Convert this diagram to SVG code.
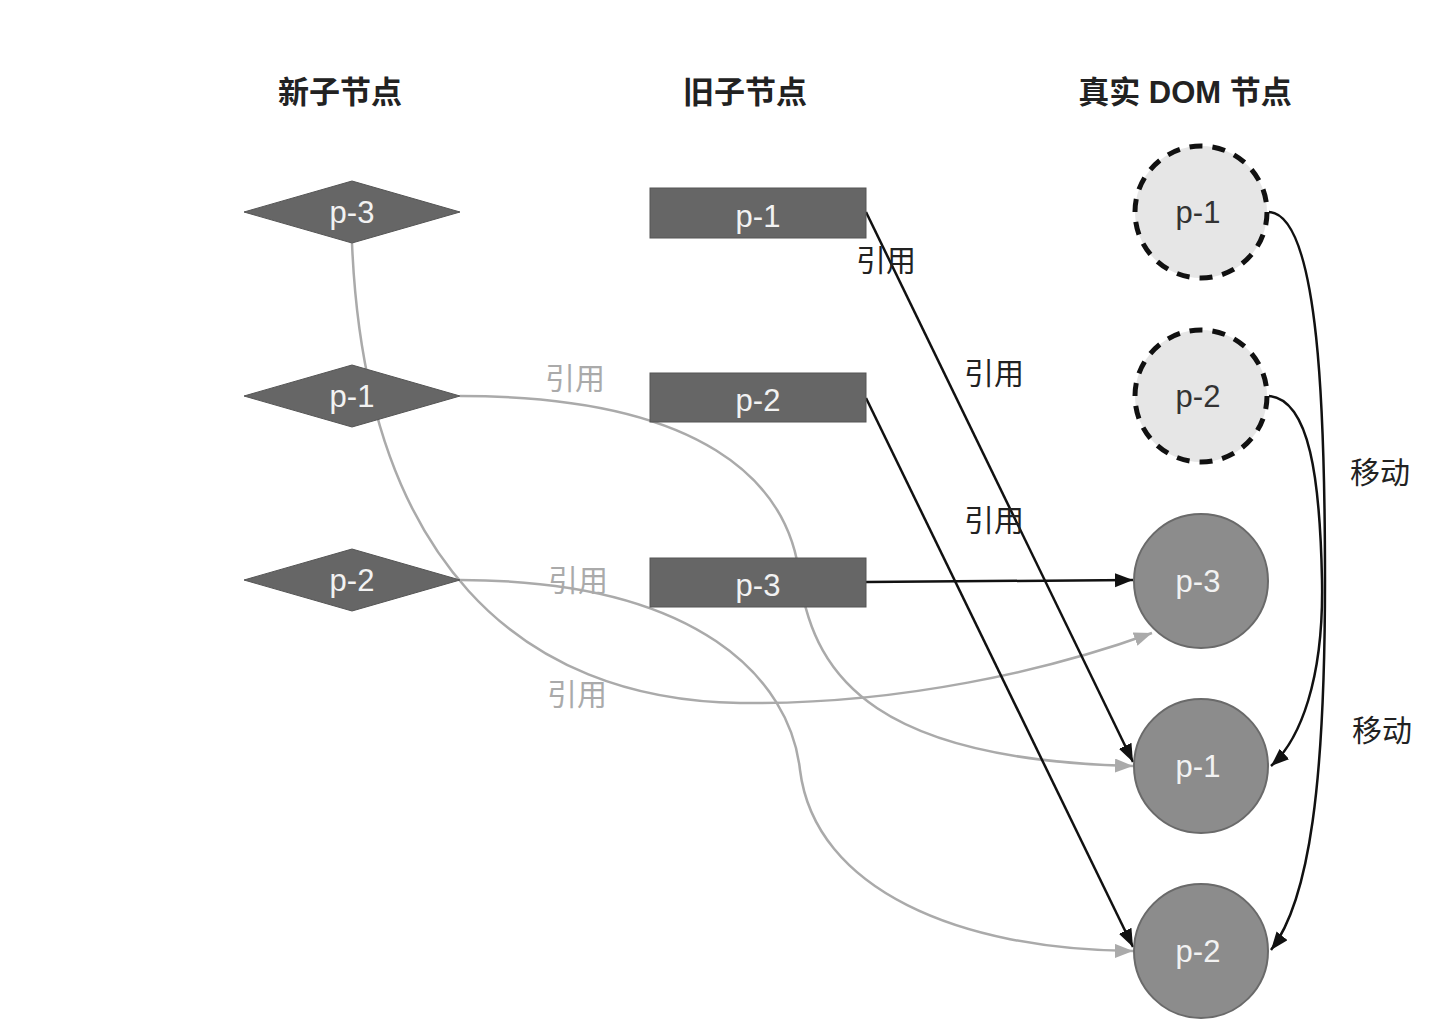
<svg xmlns="http://www.w3.org/2000/svg" width="1446" height="1034" viewBox="0 0 1446 1034">
<style>
text{font-family:"Liberation Sans","Noto Sans CJK SC",sans-serif;text-anchor:middle}
.hdr{font-size:31px;fill:#222;font-weight:bold}
.nt{font-size:31px;fill:#f2f2f2}
.dt{font-size:31px;fill:#333}
.lb{font-size:30px;fill:#222}
.gl{font-size:30px;fill:#aaa}
.shape{fill:#666;stroke:#555;stroke-width:1}
.solid{fill:#8c8c8c;stroke:#6a6a6a;stroke-width:2}
.dash{fill:#e6e6e6;stroke:#111;stroke-width:5;stroke-dasharray:13 10}
.bk{fill:none;stroke:#111;stroke-width:2.5}
.gr{fill:none;stroke:#aaa;stroke-width:2.5}
</style>
<defs>
<marker id="ab" markerUnits="userSpaceOnUse" markerWidth="20" markerHeight="16" refX="18" refY="7" orient="auto"><path d="M0,0 L18,7 L0,14 z" fill="#111"/></marker>
<marker id="ag" markerUnits="userSpaceOnUse" markerWidth="20" markerHeight="16" refX="18" refY="7" orient="auto"><path d="M0,0 L18,7 L0,14 z" fill="#aaa"/></marker>
</defs>
<rect width="1446" height="1034" fill="#fff"/>
<g id="headers">
<text class="hdr" x="340" y="103">新子节点</text>
<text class="hdr" x="745" y="103">旧子节点</text>
<text class="hdr" x="1185" y="103">真实 DOM 节点</text>
</g>
<g id="connectors">
<path class="gr" d="M352,243 C365,560 520,700 740,703 C900,705 1050,670 1152,633" marker-end="url(#ag)"/>
<path class="gr" d="M460,396 C700,396 790,480 800,580 C815,680 880,760 1133,766" marker-end="url(#ag)"/>
<path class="gr" d="M460,580 C700,580 790,680 800,770 C815,890 960,950 1133,951" marker-end="url(#ag)"/>
<path class="bk" d="M866,212 L1133,762" marker-end="url(#ab)"/>
<path class="bk" d="M866,398 L1133,947" marker-end="url(#ab)"/>
<path class="bk" d="M866,582 L1133,580" marker-end="url(#ab)"/>
<path class="bk" d="M1269,212 C1320,215 1325,420 1325,580 C1325,780 1310,900 1271,950" marker-end="url(#ab)"/>
<path class="bk" d="M1269,396 C1310,400 1320,480 1322,580 C1324,680 1300,740 1271,766" marker-end="url(#ab)"/>
<text class="lb" x="886" y="271">引用</text>
<text class="lb" x="994" y="384">引用</text>
<text class="lb" x="994" y="531">引用</text>
<text class="lb" x="1380" y="483">移动</text>
<text class="lb" x="1382" y="741">移动</text>
<text class="gl" x="575" y="389">引用</text>
<text class="gl" x="578" y="591">引用</text>
<text class="gl" x="577" y="705">引用</text>
</g>
<g id="new-p3"><polygon class="shape" points="244,212 352,181 460,212 352,243"/><text class="nt" x="352" y="223">p-3</text></g>
<g id="new-p1"><polygon class="shape" points="244,396 352,365 460,396 352,427"/><text class="nt" x="352" y="407">p-1</text></g>
<g id="new-p2"><polygon class="shape" points="244,580 352,549 460,580 352,611"/><text class="nt" x="352" y="591">p-2</text></g>
<g id="old-p1"><rect class="shape" x="650" y="188" width="216" height="50"/><text class="nt" x="758" y="227">p-1</text></g>
<g id="old-p2"><rect class="shape" x="650" y="373" width="216" height="49"/><text class="nt" x="758" y="411">p-2</text></g>
<g id="old-p3"><rect class="shape" x="650" y="558" width="216" height="49"/><text class="nt" x="758" y="596">p-3</text></g>
<g id="dom-p1-old"><circle class="dash" cx="1201" cy="212" r="66"/><text class="dt" x="1198" y="223">p-1</text></g>
<g id="dom-p2-old"><circle class="dash" cx="1201" cy="396" r="66"/><text class="dt" x="1198" y="407">p-2</text></g>
<g id="dom-p3"><circle class="solid" cx="1201" cy="581" r="67"/><text class="nt" x="1198" y="592">p-3</text></g>
<g id="dom-p1"><circle class="solid" cx="1201" cy="766" r="67"/><text class="nt" x="1198" y="777">p-1</text></g>
<g id="dom-p2"><circle class="solid" cx="1201" cy="951" r="67"/><text class="nt" x="1198" y="962">p-2</text></g>
</svg>
